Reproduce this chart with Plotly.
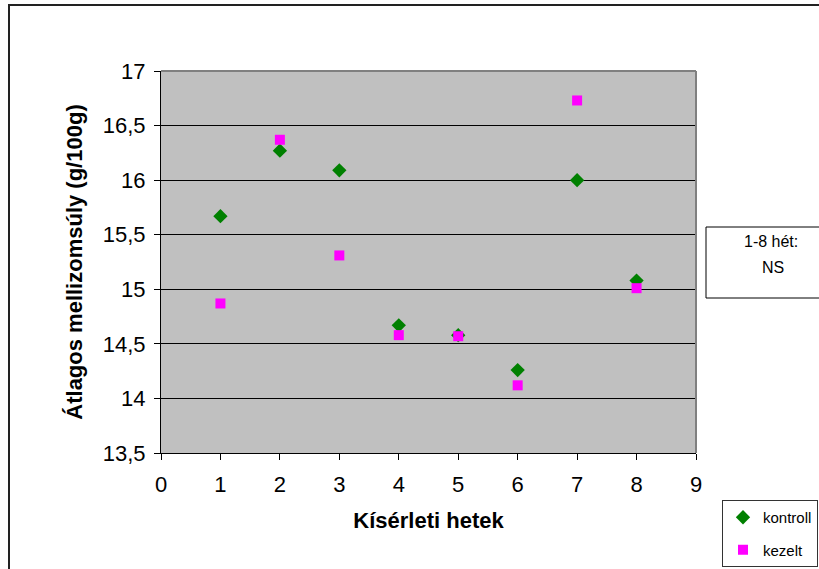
import plotly.graph_objects as go

# Weekly mean breast muscle weight (g/100g) per group
weeks = [1, 2, 3, 4, 5, 6, 7, 8]
kontroll = [15.67, 16.27, 16.09, 14.67, 14.58, 14.26, 16.00, 15.08]
kezelt = [14.87, 16.37, 15.31, 14.58, 14.57, 14.12, 16.73, 15.01]

y_ticks = [13.5, 14, 14.5, 15, 15.5, 16, 16.5, 17]
y_tick_text = ["13,5", "14", "14,5", "15", "15,5", "16", "16,5", "17"]
x_ticks = [0, 1, 2, 3, 4, 5, 6, 7, 8, 9]

W, H = 819, 569
L, R, T, B = 161, 696, 71, 453


def px(x):
    return (x - L) / (R - L)


def py(y):
    return (B - y) / (B - T)


fig = go.Figure()
fig.add_trace(go.Scatter(
    x=weeks, y=kontroll, mode="markers", name="kontroll", legendgroup="a",
    marker=dict(symbol="diamond", size=11, color="#008000"),
))
fig.add_trace(go.Scatter(
    x=weeks, y=kezelt, mode="markers", name="kezelt", legendgroup="b",
    marker=dict(symbol="square", size=10, color="#FF00FF"),
))

font = "Arial, Liberation Sans, sans-serif"

fig.update_layout(
    width=W, height=H,
    margin=dict(l=L, r=W - R, t=T, b=H - B, autoexpand=False),
    paper_bgcolor="white",
    plot_bgcolor="#C0C0C0",
    font=dict(family=font, color="black"),
    showlegend=True,
    legend=dict(
        x=px(818), y=py(500), xanchor="right", yanchor="top",
        bordercolor="#333333", borderwidth=1, bgcolor="white",
        font=dict(size=15, family=font),
        traceorder="grouped", tracegroupgap=10, itemwidth=30,
    ),
    xaxis=dict(
        range=[0, 9], tickvals=x_ticks, showgrid=False, zeroline=False,
        showline=True, linecolor="black", linewidth=1,
        ticks="outside", ticklen=6, tickcolor="black",
        tickfont=dict(size=22), ticklabelstandoff=6,
        title=dict(text="<b>Kísérleti hetek</b>", font=dict(size=22), standoff=16),
    ),
    yaxis=dict(
        range=[13.5, 17], tickvals=y_ticks, ticktext=y_tick_text,
        showgrid=True, gridcolor="black", gridwidth=1, zeroline=False,
        showline=True, linecolor="black", linewidth=1,
        ticks="outside", ticklen=6, tickcolor="black",
        tickfont=dict(size=22), ticklabelstandoff=4,
        title=dict(text="<b>Átlagos mellizomsúly (g/100g)</b>", font=dict(size=22), standoff=14),
    ),
    shapes=[
        # outer chart frame
        dict(type="rect", xref="paper", yref="paper",
             x0=px(9), x1=px(W + 20), y0=py(5), y1=py(H + 20),
             line=dict(color="#222222", width=2), layer="below"),
        # grey top and right plot-area border
        dict(type="line", xref="paper", yref="paper", x0=0, x1=1, y0=1, y1=1,
             line=dict(color="#808080", width=2), layer="above"),
        dict(type="line", xref="paper", yref="paper", x0=1, x1=1, y0=0, y1=1,
             line=dict(color="#808080", width=2), layer="above"),
        # note box
        dict(type="rect", xref="paper", yref="paper",
             x0=px(706), x1=px(W + 20), y0=py(227), y1=py(298),
             line=dict(color="black", width=1), fillcolor="white"),
    ],
    annotations=[
        dict(text="1-8 hét:", xref="paper", yref="paper",
             x=px(771), y=py(241), xanchor="center", yanchor="middle",
             showarrow=False, font=dict(size=16, family=font)),
        dict(text="NS", xref="paper", yref="paper",
             x=px(773), y=py(267), xanchor="center", yanchor="middle",
             showarrow=False, font=dict(size=16, family=font)),
    ],
)

fig.write_html("out.html")
